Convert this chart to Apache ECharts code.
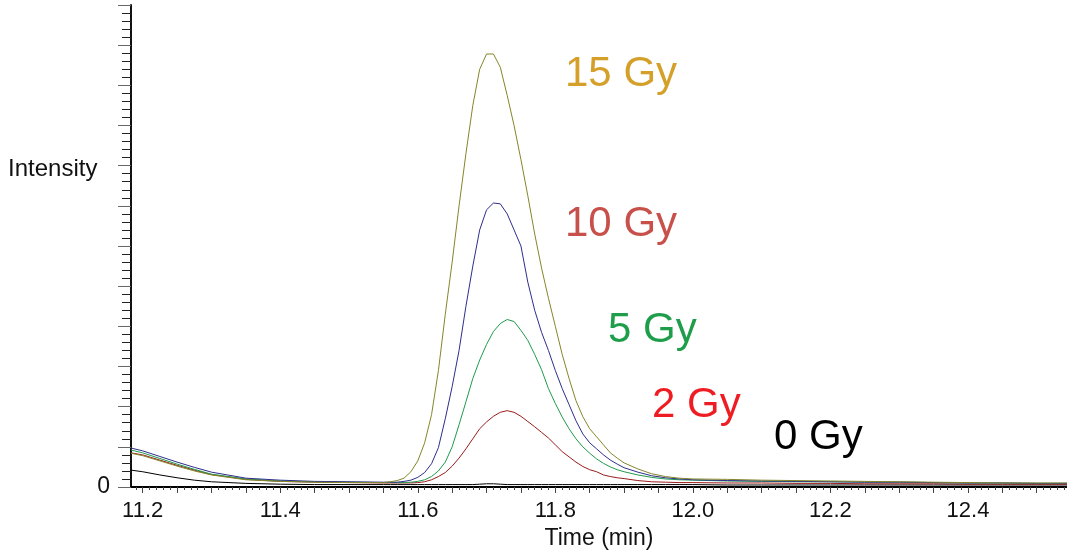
<!DOCTYPE html>
<html>
<head>
<meta charset="utf-8">
<script src="https://cdn.jsdelivr.net/npm/echarts@6/dist/echarts.min.js"></script>
<style>
html,body{margin:0;padding:0;background:#fff;}
#chart{width:1067px;height:552px;}
</style>
</head>
<body>
<div id="chart"></div>
<script>
// Retention time (min)
var times = [11.183, 11.2, 11.225, 11.25, 11.275, 11.3, 11.35, 11.4, 11.45, 11.5, 11.55,
  11.56, 11.57, 11.58, 11.59, 11.6, 11.61, 11.62, 11.63, 11.64, 11.65, 11.66, 11.67, 11.68, 11.69,
  11.7, 11.71, 11.72, 11.73, 11.74, 11.75, 11.76, 11.77, 11.78, 11.79, 11.8, 11.81, 11.82, 11.83,
  11.84, 11.85, 11.86, 11.87, 11.88, 11.89, 11.9,
  11.92, 11.94, 11.96, 11.98, 12.0,
  12.05, 12.1, 12.15, 12.2, 12.25, 12.3, 12.35, 12.4, 12.45, 12.5, 12.544];

var gy15 = [0.84, 0.78, 0.65, 0.52, 0.4, 0.3, 0.18, 0.14, 0.12, 0.11, 0.11,
  0.13, 0.16, 0.22, 0.38, 0.65, 1.1, 1.8, 2.9, 4.3, 5.6, 7.0, 8.3, 9.5, 10.4,
  10.78, 10.78, 10.45, 9.75, 9.0, 8.15, 7.25, 6.3, 5.45, 4.7, 4.0, 3.3, 2.7, 2.15,
  1.75, 1.45, 1.25, 1.05, 0.85, 0.72, 0.6,
  0.45, 0.33, 0.26, 0.22, 0.2,
  0.19, 0.17, 0.16, 0.15, 0.14, 0.13, 0.12, 0.11, 0.1, 0.1, 0.1];

var gy10 = [0.97, 0.9, 0.76, 0.62, 0.49, 0.37, 0.22, 0.17, 0.14, 0.13, 0.12,
  0.12, 0.12, 0.14, 0.17, 0.24, 0.36, 0.58, 0.98, 1.7, 2.5, 3.4, 4.5, 5.5, 6.4,
  6.9, 7.07, 7.05, 6.8, 6.4, 6.0, 5.1, 4.4, 3.85, 3.4, 2.9, 2.45, 2.05, 1.65,
  1.32, 1.1, 0.95, 0.8, 0.67, 0.57, 0.48,
  0.37, 0.28, 0.23, 0.2, 0.18,
  0.16, 0.15, 0.14, 0.13, 0.12, 0.12, 0.11, 0.1, 0.1, 0.09, 0.09];

var gy5 = [0.92, 0.85, 0.71, 0.57, 0.44, 0.32, 0.2, 0.15, 0.13, 0.12, 0.11,
  0.11, 0.11, 0.11, 0.12, 0.14, 0.18, 0.26, 0.4, 0.62, 1.0, 1.55, 2.12, 2.7, 3.16,
  3.55, 3.87, 4.07, 4.17, 4.12, 3.9, 3.65, 3.3, 2.92, 2.45, 2.08, 1.74, 1.45, 1.2,
  1.0, 0.84, 0.7, 0.59, 0.5, 0.43, 0.38,
  0.3, 0.24, 0.2, 0.18, 0.17,
  0.15, 0.14, 0.13, 0.13, 0.12, 0.12, 0.11, 0.1, 0.1, 0.09, 0.09];

var gy2 = [0.85, 0.8, 0.67, 0.54, 0.42, 0.31, 0.19, 0.14, 0.12, 0.11, 0.1,
  0.1, 0.1, 0.1, 0.1, 0.11, 0.13, 0.18, 0.26, 0.36, 0.52, 0.72, 0.95, 1.2, 1.45,
  1.62, 1.76, 1.86, 1.9, 1.86, 1.76, 1.63, 1.5, 1.36, 1.22, 1.05, 0.88, 0.75, 0.62,
  0.51, 0.43, 0.38, 0.3, 0.26, 0.23, 0.21,
  0.16, 0.13, 0.12, 0.11, 0.11,
  0.1, 0.1, 0.09, 0.09, 0.08, 0.08, 0.08, 0.07, 0.07, 0.07, 0.07];

var gy0 = [0.42, 0.38, 0.3, 0.23, 0.17, 0.13, 0.09, 0.07, 0.06, 0.06, 0.06,
  0.06, 0.06, 0.06, 0.06, 0.06, 0.06, 0.06, 0.06, 0.06, 0.06, 0.06, 0.06, 0.06, 0.07,
  0.08, 0.08, 0.07, 0.06, 0.06, 0.06, 0.06, 0.06, 0.06, 0.06, 0.06, 0.06, 0.06, 0.06,
  0.06, 0.06, 0.06, 0.06, 0.06, 0.06, 0.06,
  0.06, 0.06, 0.06, 0.06, 0.06,
  0.05, 0.05, 0.05, 0.05, 0.05, 0.05, 0.05, 0.05, 0.05, 0.05, 0.05];

var xTickLabels = [11.2, 11.4, 11.6, 11.8, 12.0, 12.2, 12.4];
var seriesNames = ['15 Gy', '10 Gy', '5 Gy', '2 Gy', '0 Gy'];
var lineColors = ['#85852a', '#2e2e8c', '#1f9a4c', '#9a1c1c', '#000000'];
var labelColors = ['#d4a02a', '#c8504b', '#1e9e4a', '#ee1d23', '#000000'];

var xMin = 11.183, xMax = 12.544;

function pairs(ys) {
  return times.map(function (t, i) { return [t, ys[i]]; });
}
var majorTicks = [], minorTicks = [];
for (var k = Math.ceil(xMin * 100); k <= Math.floor(xMax * 100); k++) {
  var v = k / 100;
  if (k % 5 === 0) majorTicks.push(v); else minorTicks.push(v);
}

var chart = echarts.init(document.getElementById('chart'));
var font = 'Liberation Sans, Arial, sans-serif';
var allY = [gy15, gy10, gy5, gy2, gy0];

chart.setOption({
  animation: false,
  backgroundColor: '#fff',
  grid: { left: 131, right: 0, top: 5, bottom: 65, containLabel: false, outerBoundsMode: 'none' },
  xAxis: [{
    type: 'value', min: xMin, max: xMax,
    axisLine: { show: true, onZero: false, lineStyle: { color: '#000', width: 2 } },
    axisTick: { show: true, customValues: majorTicks, length: 6, lineStyle: { color: '#444' } },
    axisLabel: { show: true, customValues: xTickLabels, margin: 13,
      formatter: function (v) { return v.toFixed(1); },
      fontFamily: font, fontSize: 22, color: '#111' },
    splitLine: { show: false },
    name: 'Time (min)', nameLocation: 'middle', nameGap: 35,
    nameTextStyle: { fontFamily: font, fontSize: 23, color: '#111' }
  }, {
    type: 'value', min: xMin, max: xMax, position: 'bottom', gridIndex: 0,
    axisLine: { show: false },
    axisTick: { show: true, customValues: minorTicks, length: 3, lineStyle: { color: '#444' } },
    axisLabel: { show: false },
    splitLine: { show: false }
  }],
  yAxis: {
    type: 'value', min: 0, max: 12, interval: 1,
    axisLine: { show: true, lineStyle: { color: '#111', width: 2 } },
    axisTick: { show: true, length: 13, lineStyle: { color: '#666' } },
    minorTick: { show: true, splitNumber: 5, length: 9, lineStyle: { color: '#222' } },
    axisLabel: { show: true, margin: 21, padding: [5, 0, 0, 0],
      formatter: function (v) { return v === 0 ? '0' : ''; },
      fontFamily: font, fontSize: 23, color: '#111' },
    splitLine: { show: false }
  },
  series: seriesNames.map(function (n, i) {
    return {
      name: n, type: 'line', xAxisIndex: 0, data: pairs(allY[i]),
      showSymbol: false, symbol: 'none',
      lineStyle: { color: lineColors[i], width: 1 },
      z: 10 - i
    };
  }),
  graphic: [
    { type: 'text', left: 8, top: 157, style: { text: 'Intensity', font: '24px ' + font, fill: '#111' } },
    { type: 'text', left: 565, top: 53, style: { text: seriesNames[0], font: '42px ' + font, fill: labelColors[0] } },
    { type: 'text', left: 565, top: 203, style: { text: seriesNames[1], font: '42px ' + font, fill: labelColors[1] } },
    { type: 'text', left: 608, top: 309, style: { text: seriesNames[2], font: '42px ' + font, fill: labelColors[2] } },
    { type: 'text', left: 652, top: 384, style: { text: seriesNames[3], font: '42px ' + font, fill: labelColors[3] } },
    { type: 'text', left: 774, top: 416, style: { text: seriesNames[4], font: '42px ' + font, fill: labelColors[4] } }
  ]
});
</script>
</body>
</html>
